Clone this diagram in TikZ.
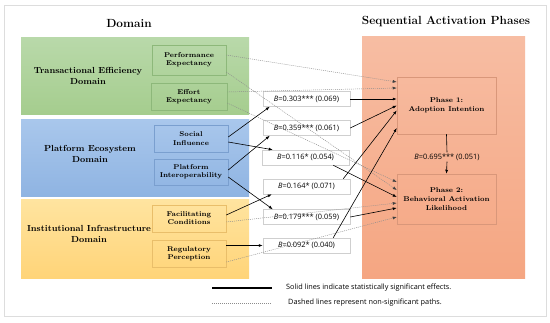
\documentclass[tikz,border=0pt]{standalone}
\usepackage{fontspec}
\newfontfamily\betafont{Open Sans}
\usetikzlibrary{arrows.meta,calc,shadings}
\definecolor{greenTop}{HTML}{B9D9AA}
\definecolor{greenBot}{HTML}{A5CD8E}
\definecolor{greenLine}{HTML}{8DB87A}
\definecolor{blueTop}{HTML}{A9C7EC}
\definecolor{blueBot}{HTML}{8FB4E2}
\definecolor{blueLine}{HTML}{7A9FCF}
\definecolor{yelTop}{HTML}{FFE4A0}
\definecolor{yelBot}{HTML}{FFD478}
\definecolor{yelLine}{HTML}{E9BE6A}
\definecolor{orTop}{HTML}{F7BDA3}
\definecolor{orBot}{HTML}{F5A682}
\definecolor{orLine}{HTML}{D9977A}
\definecolor{betaLine}{HTML}{CFCFCF}
\definecolor{frameGray}{HTML}{DDDDDD}
\definecolor{dashGray}{HTML}{8C8C8C}
\tikzset{
  domainbox/.style={draw=none, inner sep=0pt, minimum width=228pt},
  subbox/.style={draw=#1, line width=0.5pt, inner sep=0pt, align=center,
    minimum width=74pt, font=\bfseries\fontsize{7}{8.2}\selectfont},
  domainlabel/.style={align=center, inner sep=0pt, font=\bfseries\fontsize{8.8}{11}\selectfont},
  titlelabel/.style={inner sep=0pt, font=\bfseries\fontsize{11.8}{14}\selectfont},
  betabox/.style={draw=betaLine, line width=0.5pt, fill=white, inner sep=0pt,
    minimum width=87pt, minimum height=15pt, font=\betafont\fontsize{7.4}{8}\selectfont},
  phasebox/.style={draw=orLine, line width=0.5pt, inner sep=0pt, align=center,
    minimum width=99pt, font=\bfseries\fontsize{7}{8.6}\selectfont},
  sig/.style={draw=black, line width=0.6pt, -{Latex[length=4pt,width=3pt]}},
  nsig/.style={draw=dashGray, line width=0.45pt, dash pattern=on 1pt off 1pt,
    -{Latex[length=4pt,width=3pt,color=black!75]}},
  legendtext/.style={anchor=west, inner sep=0pt, font=\betafont\fontsize{7.3}{8}\selectfont}
}
\newcommand{\bet}[2]{\textit{B}=#1 (#2)}
\begin{document}
\begin{tikzpicture}[x=1pt,y=-1pt]
\useasboundingbox (0,0) rectangle (550,322);
\fill[white] (0,0) rectangle (550,322);
\draw[frameGray, line width=0.8pt] (4,5) rectangle (546,316);

% titles
\node[titlelabel] (tdom) at (129,23) {Domain};
\node[titlelabel] (tseq) at (446,22) {Sequential Activation Phases};

% domain boxes
\node[domainbox, minimum height=77pt, top color=greenTop, bottom color=greenBot] (gdom) at (135,75.5) {};
\node[domainbox, minimum height=77pt, top color=blueTop, bottom color=blueBot] (bdom) at (135,157.5) {};
\node[domainbox, minimum height=79pt, top color=yelTop, bottom color=yelBot] (ydom) at (135,238.5) {};
\node[draw=none, inner sep=0pt, minimum width=163pt, minimum height=242pt, top color=orTop, bottom color=orBot] (odom) at (443.5,157) {};

\node[domainlabel] (lt) at (88,76) {Transactional Efficiency\\Domain};
\node[domainlabel] (lp) at (90,154) {Platform Ecosystem\\Domain};
\node[domainlabel] (li) at (89,234) {Institutional Infrastructure\\Domain};

% sub boxes
\node[subbox=greenLine, minimum height=30pt] (pe) at (189,60) {Performance\\Expectancy};
\node[subbox=greenLine, minimum width=76pt, minimum height=27pt] (ee) at (189,96.5) {Effort\\Expectancy};
\node[subbox=blueLine, minimum height=27pt] (si) at (191,138.5) {Social\\Influence};
\node[subbox=blueLine, minimum height=26pt] (pi) at (191,172) {Platform\\Interoperability};
\node[subbox=yelLine, minimum height=27pt] (fc) at (189,218.5) {Facilitating\\Conditions};
\node[subbox=yelLine, minimum height=27pt] (rp) at (189,253.5) {Regulatory\\Perception};

% phase boxes
\node[phasebox, minimum height=57pt] (ph1) at (446.5,105.5) {Phase 1:\\Adoption Intention};
\node[phasebox, minimum height=50pt] (ph2) at (446.5,199) {Phase 2:\\Behavioral Activation\\Likelihood};

% beta boxes
\node[betabox] (b1) at (306.5,99) {\bet{0.303***}{0.069}};
\node[betabox] (b2) at (306.5,128) {\bet{0.359***}{0.061}};
\node[betabox] (b3) at (305.5,157.5) {\bet{0.116*}{0.054}};
\node[betabox] (b4) at (306.5,186.5) {\bet{0.164*}{0.071}};
\node[betabox] (b5) at (306.5,217) {\bet{0.179***}{0.059}};
\node[betabox] (b6) at (306.5,245.5) {\bet{0.092*}{0.040}};

% non-significant paths
\draw[nsig] ($(pe.east)+(0,-5)$) -- ($(ph1.west)+(0,-23.5)$);
\draw[nsig] ($(pe.east)+(0,12)$) -- ($(ph2.west)+(0,-9)$);
\draw[nsig] ($(ee.east)+(0,-4.5)$) -- ($(ph1.west)+(0,-17.5)$);
\draw[nsig] ($(ee.east)+(0,6.5)$) -- ($(ph2.west)+(0,-17)$);
\draw[nsig] ($(fc.east)+(0,3.5)$) -- ($(ph2.west)+(0,4)$);
\draw[nsig] ($(rp.east)+(0,8.5)$) -- ($(ph2.west)+(0,18)$);

% significant paths: antecedents -> coefficients
\draw[sig] ($(si.east)+(0,-1.5)$) -- ($(b1.south west)+(7,0)$);
\draw[sig] ($(si.east)+(0,3.5)$) -- ($(b3.north west)+(11,0)$);
\draw[sig] ($(pi.east)+(0,-2)$) -- ($(b2.south west)+(7,0)$);
\draw[sig] ($(pi.east)+(0,5)$) -- ($(b5.north west)+(10,0)$);
\draw[sig] ($(fc.east)+(0,-3.5)$) -- ($(b4.south west)+(9,0)$);
\draw[sig] (rp.east |- b6.west) -- (b6.west);

% coefficients -> phases
\draw[sig] (b1.east) -- (ph1.west |- b1.east);
\draw[sig] (b2.east) -- (ph1.west);
\draw[sig] ($(b3.south east)+(-16,0)$) -- ($(ph2.west)+(0,-2)$);
\draw[sig] ($(b4.north east)+(-7,0)$) -- ($(ph1.west)+(0,5)$);
\draw[sig] (b5.east) -- ($(ph2.west)+(0,9)$);
\draw[sig] ($(b6.north east)+(-17,0)$) -- ($(ph1.west)+(0,22.5)$);

% phase 1 -> phase 2
\node[inner sep=1pt, font=\betafont\fontsize{7.4}{8}\selectfont] (b7) at (447,157) {\bet{0.695***}{0.051}};
\draw[line width=0.6pt] (ph1.south) -- (b7.north);
\draw[sig] (b7.south) -- (ph2.north);

% legend
\coordinate (l1a) at (212,288);
\coordinate (l1b) at (272,288);
\coordinate (l2a) at (212,303);
\coordinate (l2b) at (272,303);
\draw[black, line width=1.3pt] (l1a) -- (l1b);
\draw[dashGray, line width=0.5pt, dash pattern=on 1pt off 1pt] (l2a) -- (l2b);
\node[legendtext] (lg1) at (286,288) {Solid lines indicate statistically significant effects.};
\node[legendtext] (lg2) at (288,303) {Dashed lines represent non-significant paths.};
\end{tikzpicture}
\end{document}
